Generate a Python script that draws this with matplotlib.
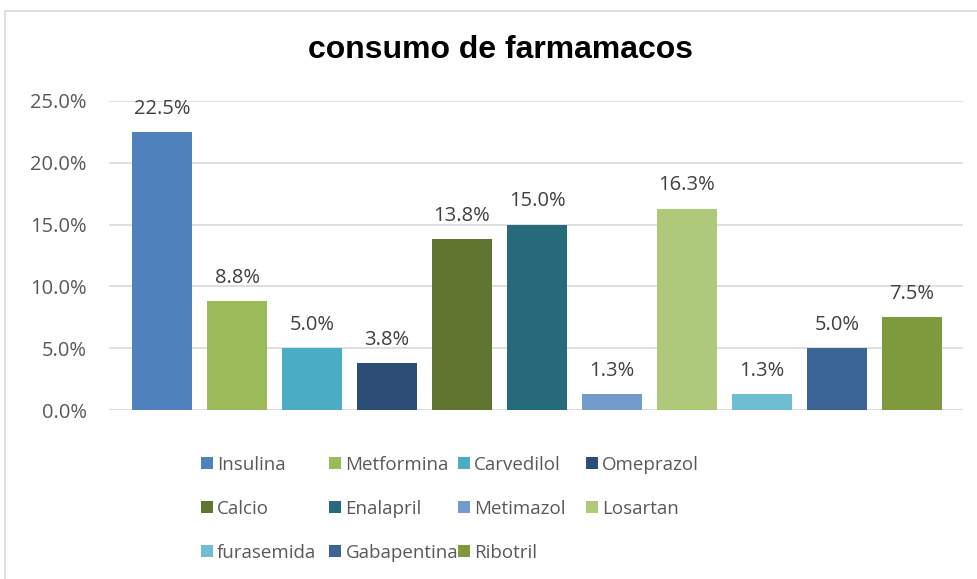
import matplotlib.pyplot as plt
from matplotlib.patches import Rectangle
from matplotlib.ticker import FuncFormatter

plt.rcParams['font.family'] = ['Open Sans', 'DejaVu Sans']

drugs = ['Insulina', 'Metformina', 'Carvedilol', 'Omeprazol', 'Calcio', 'Enalapril',
         'Metimazol', 'Losartan', 'furasemida', 'Gabapentina', 'Ribotril']
shares = [22.5, 8.8, 5.0, 3.8, 13.8, 15.0, 1.3, 16.3, 1.3, 5.0, 7.5]
colors = ['#4F81BD', '#9BBB59', '#4BACC6', '#2C4D75', '#5F7530', '#276A7C',
          '#729ACA', '#AFC97A', '#6FBDD1', '#3A6596', '#7F9A3D']

W, H = 977, 579
fig = plt.figure(figsize=(W / 100, H / 100), dpi=100)
ax = fig.add_axes([109 / W, 1 - 410 / H, (963 - 109) / W, (410 - 101) / H])

# chart frame
fig.patches.append(Rectangle((5 / W, -0.1), 1.2, 1 - 11 / H + 0.1, transform=fig.transFigure,
                             fill=False, edgecolor='#D9D9D9', linewidth=1.2))

xs = list(range(len(drugs)))
ax.bar(xs, shares, width=0.8, color=colors, zorder=3)
for x, v in zip(xs, shares):
    ax.annotate('%.1f%%' % v, (x, v), xytext=(0, 9.5), textcoords='offset points',
                ha='center', va='bottom', fontsize=14.5, color='#404040')

ax.set_ylim(0, 25)
ax.set_xlim(-0.707, 10.68)
ax.set_yticks([0, 5, 10, 15, 20, 25])
ax.yaxis.set_major_formatter(FuncFormatter(lambda v, p: '%.1f%%' % v))
ax.tick_params(axis='y', length=0, labelsize=14.5, labelcolor='#595959', pad=16)
ax.set_xticks([])
ax.grid(axis='y', color='#D9D9D9', linewidth=1.2, zorder=0)
for s in ax.spines.values():
    s.set_visible(False)

fig.text(0.512, 1 - 50 / H, 'consumo de farmamacos', ha='center', va='center',
         fontsize=23, fontweight='bold', family='Liberation Sans', color='black')

# legend laid out like Excel: row-major, equal column widths
for i, (name, c) in enumerate(zip(drugs, colors)):
    row, col = divmod(i, 4)
    px = 201 + 128.4 * col
    py = 463 + 44 * row
    fig.patches.append(Rectangle((px / W, 1 - (py + 6) / H), 12 / W, 12 / H,
                                 transform=fig.transFigure, facecolor=c, edgecolor='none'))
    fig.text((px + 16) / W, 1 - py / H, name, ha='left', va='center_baseline',
             fontsize=13.5, color='#595959')

fig.savefig('out.png', dpi=100)
